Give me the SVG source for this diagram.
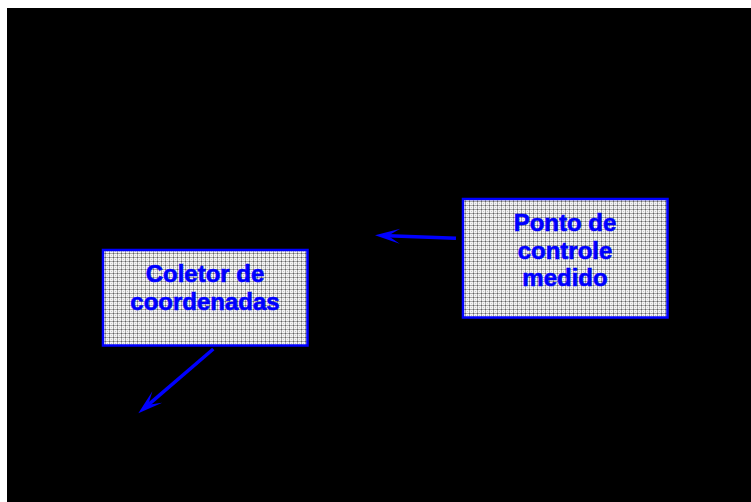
<svg xmlns="http://www.w3.org/2000/svg" width="751" height="502" viewBox="0 0 751 502">
<style>
.box{fill:url(#grid);stroke:#0000ff;stroke-width:2.5}
.lbl{font-family:"Liberation Sans",Arial,sans-serif;font-weight:bold;font-size:24px;fill:#0000ff;stroke:#0000ff;stroke-width:0.6;text-anchor:middle}
.conn{stroke:#0000ff;stroke-width:3.5;fill:none;marker-end:url(#arr)}
</style>
<defs>
<pattern id="grid" x="0" y="0" width="4" height="4" patternUnits="userSpaceOnUse">
<rect width="4" height="4" fill="#f4f4f4"/>
<rect x="0" y="1" width="4" height="1" fill="#a8a8a8"/>
<rect x="1" y="0" width="1" height="4" fill="#a8a8a8"/>
<rect x="1" y="1" width="1" height="1" fill="#606060"/>
<rect x="3" y="3" width="1" height="1" fill="#c8c8c8"/>
</pattern>
<marker id="arr" markerUnits="userSpaceOnUse" markerWidth="30" markerHeight="20" viewBox="-14 -10 30 20" refX="0" refY="0" orient="auto" overflow="visible">
<path d="M13,0 L-12,-7.5 L0,0 L-12,7.5 Z" fill="#0000ff"/>
</marker>
</defs>
<rect x="0" y="0" width="751" height="502" fill="#ffffff"/>
<rect x="7" y="8" width="744" height="494" fill="#000000"/>
<g id="connectors">
<line class="conn" x1="456" y1="238.3" x2="388" y2="235.8"/>
<line class="conn" x1="213.3" y1="349" x2="148.2" y2="404.8"/>
</g>
<g id="node-ponto">
<rect class="box" x="463" y="199" width="204.5" height="118.5"/>
<text class="lbl" x="565" y="231">Ponto de</text>
<text class="lbl" x="565" y="258.5">controle</text>
<text class="lbl" x="565" y="286">medido</text>
</g>
<g id="node-coletor">
<rect class="box" x="103" y="250" width="204.5" height="95.5"/>
<text class="lbl" x="205" y="282">Coletor de</text>
<text class="lbl" x="205" y="310">coordenadas</text>
</g>
</svg>
